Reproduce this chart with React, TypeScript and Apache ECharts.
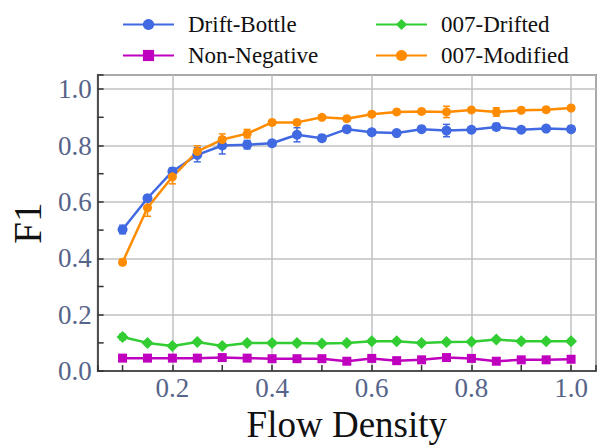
import React, { useEffect, useRef } from 'react';
import * as echarts from 'echarts';

const flowDensity = [0.1, 0.15, 0.2, 0.25, 0.3, 0.35, 0.4, 0.45, 0.5, 0.55, 0.6, 0.65, 0.7, 0.75, 0.8, 0.85, 0.9, 0.95, 1.0];

const driftBottle = [0.502, 0.613, 0.708, 0.767, 0.800, 0.803, 0.808, 0.838, 0.826, 0.858, 0.847, 0.844, 0.858, 0.853, 0.856, 0.866, 0.856, 0.860, 0.858];
const driftBottleErr = [0.015, 0.010, 0.012, 0.025, 0.030, 0.015, 0.010, 0.025, 0.010, 0.010, 0.010, 0.008, 0.008, 0.022, 0.010, 0.012, 0.008, 0.008, 0.008];

const nonNegative = [0.046, 0.046, 0.046, 0.046, 0.048, 0.046, 0.044, 0.044, 0.044, 0.035, 0.045, 0.037, 0.040, 0.048, 0.045, 0.035, 0.040, 0.040, 0.042];
const nonNegativeErr = [0.005, 0.005, 0.005, 0.005, 0.006, 0.005, 0.005, 0.005, 0.005, 0.005, 0.006, 0.005, 0.005, 0.006, 0.005, 0.005, 0.005, 0.005, 0.005];

const drifted007 = [0.121, 0.100, 0.089, 0.103, 0.089, 0.100, 0.100, 0.100, 0.098, 0.100, 0.106, 0.106, 0.100, 0.103, 0.104, 0.112, 0.106, 0.106, 0.106];
const drifted007Err = [0.010, 0.006, 0.006, 0.006, 0.006, 0.006, 0.006, 0.006, 0.006, 0.006, 0.006, 0.006, 0.006, 0.006, 0.006, 0.006, 0.006, 0.006, 0.006];

const modified007 = [0.386, 0.579, 0.689, 0.779, 0.821, 0.842, 0.882, 0.882, 0.900, 0.895, 0.911, 0.919, 0.921, 0.919, 0.926, 0.919, 0.925, 0.927, 0.933];
const modified007Err = [0.010, 0.030, 0.025, 0.020, 0.020, 0.015, 0.008, 0.008, 0.008, 0.008, 0.008, 0.008, 0.008, 0.020, 0.008, 0.015, 0.008, 0.008, 0.008];

const xMinorTicks = [0.1, 0.3, 0.5, 0.7, 0.9];
const yMinorTicks = [0.1, 0.3, 0.5, 0.7, 0.9];

const FONT = 'Liberation Serif';
const TICK_COLOR = '#56648a';

const isMajor = (v: number) => Math.abs(v * 5 - Math.round(v * 5)) < 1e-6;

function errorSeries(name: string, ys: number[], errs: number[], color: string) {
  return {
    type: 'custom',
    name: name + '-err',
    silent: true,
    z: 3,
    data: flowDensity.map((x, i) => [x, ys[i], errs[i]]),
    renderItem: (params: any, api: any) => {
      const x = api.value(0);
      const y = api.value(1);
      const e = api.value(2);
      const lo = api.coord([x, y - e]);
      const hi = api.coord([x, y + e]);
      const cw = 3.5;
      return {
        type: 'group',
        children: [
          { type: 'line', shape: { x1: lo[0], y1: lo[1], x2: hi[0], y2: hi[1] }, style: { stroke: color, lineWidth: 1.5 } },
          { type: 'line', shape: { x1: lo[0] - cw, y1: lo[1], x2: lo[0] + cw, y2: lo[1] }, style: { stroke: color, lineWidth: 1.5 } },
          { type: 'line', shape: { x1: hi[0] - cw, y1: hi[1], x2: hi[0] + cw, y2: hi[1] }, style: { stroke: color, lineWidth: 1.5 } },
        ],
      };
    },
  };
}

function lineSeries(name: string, ys: number[], color: string, symbol: string, size: number) {
  return {
    type: 'line',
    name,
    data: flowDensity.map((x, i) => [x, ys[i]]),
    symbol,
    symbolSize: size,
    showAllSymbol: true,
    z: 4,
    lineStyle: { color, width: 2.5 },
    itemStyle: { color },
  };
}

export default function App() {
  const ref = useRef<HTMLDivElement>(null);
  useEffect(() => {
    if (!ref.current) return;
    const chart = echarts.init(ref.current, null, { renderer: 'svg' });
    const legendText = { fontFamily: FONT, fontSize: 23, color: '#111', padding: [0, 0, 0, 9] };
    chart.setOption({
      animation: false,
      backgroundColor: '#fff',
      legend: [
        {
          data: ['Drift-Bottle', 'Non-Negative'],
          orient: 'vertical',
          left: 117,
          top: 8,
          itemWidth: 51,
          itemHeight: 14,
          itemGap: 8,
          textStyle: legendText,
        },
        {
          data: ['007-Drifted', '007-Modified'],
          orient: 'vertical',
          left: 370,
          top: 8,
          itemWidth: 51,
          itemHeight: 14,
          itemGap: 8,
          textStyle: legendText,
        },
      ],
      grid: {
        left: 95,
        right: 11,
        top: 75,
        bottom: 69,
        show: true,
        borderColor: '#333',
        borderWidth: 1.5,
        backgroundColor: 'transparent',
      },
      xAxis: {
        type: 'value',
        min: 0.05,
        max: 1.05,
        name: 'Flow Density',
        nameLocation: 'middle',
        nameGap: 26,
        nameTextStyle: { fontFamily: FONT, fontSize: 37, color: '#111' },
        axisLine: { show: true, lineStyle: { color: '#333', width: 1.5 } },
        axisTick: { show: true, inside: true, length: 6, lineStyle: { color: '#333', width: 1.5 } },
        axisLabel: {
          fontFamily: FONT,
          fontSize: 27,
          color: TICK_COLOR,
          margin: 3,
          formatter: (v: number) => (isMajor(v) && v > 0.1 && v < 1.01 ? v.toFixed(1) : ''),
        },
        splitLine: { show: true, lineStyle: { color: '#c0c0c0', width: 1.5 } },
      },
      yAxis: {
        type: 'value',
        min: 0,
        max: 1.05,
        interval: 0.2,
        name: 'F1',
        nameLocation: 'middle',
        nameGap: 38,
        nameRotate: 90,
        nameTextStyle: { fontFamily: FONT, fontSize: 39, color: '#111' },
        axisLine: { show: true, lineStyle: { color: '#333', width: 1.5 } },
        axisTick: { show: true, inside: true, length: 6, lineStyle: { color: '#333', width: 1.5 } },
        axisLabel: {
          fontFamily: FONT,
          fontSize: 27,
          color: TICK_COLOR,
          margin: 6,
          formatter: (v: number) => (isMajor(v) && v < 1.01 ? v.toFixed(1) : ''),
        },
        splitLine: { show: true, lineStyle: { color: '#c0c0c0', width: 1.5 } },
      },
      series: [
        {
          type: 'custom',
          name: 'minor-ticks',
          silent: true,
          z: 2,
          data: [[0.05, 0]],
          renderItem: (params: any, api: any) => {
            const children: any[] = [];
            xMinorTicks.forEach((v) => {
              const p = api.coord([v, 0]);
              children.push({ type: 'line', shape: { x1: p[0], y1: p[1], x2: p[0], y2: p[1] - 6 }, style: { stroke: '#333', lineWidth: 1.5 } });
            });
            yMinorTicks.forEach((v) => {
              const p = api.coord([0.05, v]);
              children.push({ type: 'line', shape: { x1: p[0], y1: p[1], x2: p[0] + 6, y2: p[1] }, style: { stroke: '#333', lineWidth: 1.5 } });
            });
            return { type: 'group', children };
          },
        },
        errorSeries('Drift-Bottle', driftBottle, driftBottleErr, '#4169e1'),
        lineSeries('Drift-Bottle', driftBottle, '#4169e1', 'circle', 10),
        errorSeries('Non-Negative', nonNegative, nonNegativeErr, '#bf00bf'),
        lineSeries('Non-Negative', nonNegative, '#bf00bf', 'rect', 9),
        errorSeries('007-Drifted', drifted007, drifted007Err, '#32cd32'),
        lineSeries('007-Drifted', drifted007, '#32cd32', 'diamond', 12),
        errorSeries('007-Modified', modified007, modified007Err, '#ff8c00'),
        lineSeries('007-Modified', modified007, '#ff8c00', 'circle', 9),
      ],
    });
    return () => chart.dispose();
  }, []);
  return <div ref={ref} style={{ width: 607, height: 448, position: 'absolute', left: 0, top: 0 }} />;
}
